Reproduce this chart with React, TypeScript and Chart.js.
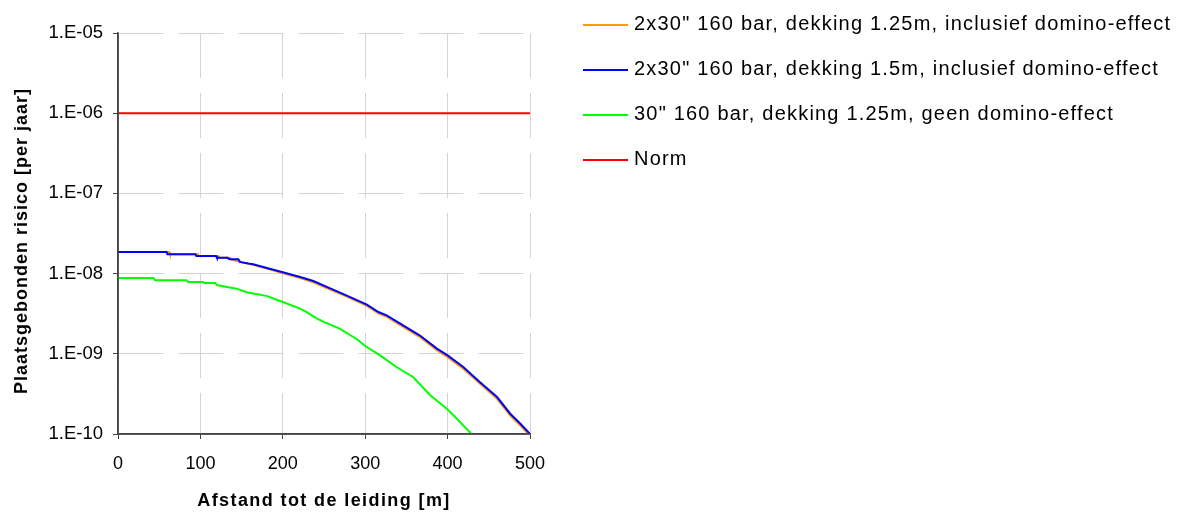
import React, { useEffect, useRef } from 'react';
import { Chart, registerables } from 'chart.js';

Chart.register(...registerables);

// ---- data ----
const legendLabels = [
  '2x30" 160 bar, dekking 1.25m, inclusief domino-effect',
  '2x30" 160 bar, dekking 1.5m, inclusief domino-effect',
  '30" 160 bar, dekking 1.25m, geen domino-effect',
  'Norm',
];
const seriesColors = ['#FF9900', '#0000FF', '#00FF00', '#FF0000'];

const orangeDistance = [0, 62, 63, 97, 98, 122, 123, 136, 138, 150, 160, 184, 200, 221, 237, 261, 277, 302, 316, 326, 346, 366, 387, 400, 419, 439, 460, 476, 488, 498];
const orangeRisk = [1.86e-8, 1.86e-8, 1.74e-8, 1.74e-8, 1.66e-8, 1.66e-8, 1.58e-8, 1.58e-8, 1.49e-8, 1.38e-8, 1.32e-8, 1.13e-8, 1.01e-8, 8.8e-9, 7.8e-9, 6.1e-9, 5.2e-9, 3.95e-9, 3.2e-9, 2.9e-9, 2.17e-9, 1.63e-9, 1.11e-9, 9.1e-10, 6.5e-10, 4.25e-10, 2.75e-10, 1.7e-10, 1.28e-10, 1.0e-10];

const blueDistance = [0, 59, 60, 94, 95, 119, 120, 133, 135, 146, 148, 158, 164, 184, 200, 221, 237, 261, 277, 302, 316, 326, 346, 366, 387, 400, 419, 439, 460, 476, 488, 500];
const blueRisk = [1.86e-8, 1.86e-8, 1.74e-8, 1.74e-8, 1.66e-8, 1.66e-8, 1.58e-8, 1.58e-8, 1.51e-8, 1.51e-8, 1.4e-8, 1.34e-8, 1.31e-8, 1.15e-8, 1.04e-8, 9.07e-9, 8.09e-9, 6.31e-9, 5.36e-9, 4.1e-9, 3.32e-9, 3.02e-9, 2.26e-9, 1.7e-9, 1.16e-9, 9.57e-10, 6.84e-10, 4.45e-10, 2.89e-10, 1.79e-10, 1.35e-10, 1.0e-10];

const greenDistance = [0, 43, 45, 83, 85, 103, 105, 118, 120, 132, 144, 156, 180, 200, 221, 229, 241, 251, 269, 290, 300, 318, 338, 358, 379, 399, 411, 419, 429];
const greenRisk = [8.81e-9, 8.81e-9, 8.24e-9, 8.24e-9, 7.86e-9, 7.86e-9, 7.64e-9, 7.64e-9, 7.21e-9, 6.81e-9, 6.5e-9, 5.85e-9, 5.28e-9, 4.43e-9, 3.66e-9, 3.3e-9, 2.77e-9, 2.47e-9, 2.06e-9, 1.52e-9, 1.25e-9, 9.57e-10, 6.84e-10, 5.14e-10, 3.04e-10, 2.07e-10, 1.56e-10, 1.28e-10, 1.0e-10];

const normDistance = [0, 500];
const normRisk = [1e-6, 1e-6];

const xTickValues = [0, 100, 200, 300, 400, 500];
const yTickValues = [1e-10, 1e-9, 1e-8, 1e-7, 1e-6, 1e-5];
const yTickLabels = ['1.E-10', '1.E-09', '1.E-08', '1.E-07', '1.E-06', '1.E-05'];

const xTitle = 'Afstand tot de leiding [m]';
const yTitle = 'Plaatsgebonden risico [per jaar]';

const FONT = '"Liberation Sans", Arial, Helvetica, sans-serif';

const toPoints = (xs: number[], ys: number[]) => xs.map((x, i) => ({ x, y: ys[i] }));

const textPlugin = {
  id: 'customText',
  afterDraw(chart: any) {
    const ctx = chart.ctx as CanvasRenderingContext2D;
    const area = chart.chartArea;
    ctx.save();
    // solid axis lines
    ctx.setLineDash([]);
    ctx.strokeStyle = '#444';
    ctx.lineWidth = 1.5;
    ctx.beginPath();
    ctx.moveTo(area.left, area.top);
    ctx.lineTo(area.left, area.bottom);
    ctx.lineTo(area.right, area.bottom);
    ctx.stroke();
    // legend
    legendLabels.forEach((label, i) => {
      const yLine = 25 + i * 45;
      ctx.strokeStyle = seriesColors[i];
      ctx.lineWidth = 2;
      ctx.beginPath();
      ctx.moveTo(583, yLine);
      ctx.lineTo(628, yLine);
      ctx.stroke();
      ctx.fillStyle = '#000';
      ctx.font = `20px ${FONT}`;
      (ctx as any).letterSpacing = '1.2px';
      ctx.textAlign = 'left';
      ctx.textBaseline = 'middle';
      ctx.fillText(label, 634, yLine - 1);
    });
    // axis titles
    ctx.fillStyle = '#000';
    ctx.font = `bold 18px ${FONT}`;
    (ctx as any).letterSpacing = '1.4px';
    ctx.textAlign = 'center';
    ctx.textBaseline = 'middle';
    ctx.fillText(xTitle, (area.left + area.right) / 2, 501);
    (ctx as any).letterSpacing = '1px';
    ctx.translate(22, 241);
    ctx.rotate(-Math.PI / 2);
    ctx.fillText(yTitle, 0, 0);
    ctx.restore();
  },
};

export default function App() {
  const canvasRef = useRef<HTMLCanvasElement | null>(null);

  useEffect(() => {
    if (!canvasRef.current) return;
    const gridOpts = {
      color: '#d4d4d4',
      lineWidth: 1,
      tickColor: '#444',
      tickLength: 5,
      tickWidth: 1,
      tickBorderDash: [],
    };
    const chart = new Chart(canvasRef.current, {
      type: 'line',
      data: {
        datasets: [
          { label: legendLabels[0], data: toPoints(orangeDistance, orangeRisk), borderColor: seriesColors[0], order: 2 },
          { label: legendLabels[1], data: toPoints(blueDistance, blueRisk), borderColor: seriesColors[1], order: 1 },
          { label: legendLabels[2], data: toPoints(greenDistance, greenRisk), borderColor: seriesColors[2], order: 3 },
          { label: legendLabels[3], data: toPoints(normDistance, normRisk), borderColor: seriesColors[3], order: 0 },
        ].map((d) => ({ ...d, borderWidth: 2, pointRadius: 0, tension: 0, fill: false })),
      },
      options: {
        animation: false,
        responsive: false,
        maintainAspectRatio: false,
        devicePixelRatio: 1,
        layout: { padding: { left: 0, top: 33, right: 653, bottom: 0 } },
        plugins: { legend: { display: false }, tooltip: { enabled: false }, title: { display: false } },
        font: { family: FONT },
        scales: {
          x: {
            type: 'linear',
            min: 0,
            max: 500,
            afterBuildTicks: (scale: any) => {
              scale.ticks = xTickValues.map((v) => ({ value: v }));
            },
            afterFit: (scale: any) => {
              scale.height = 80;
            },
            ticks: {
              color: '#000',
              font: { family: FONT, size: 18 },
              padding: 14,
              maxRotation: 0,
              callback: (v: any) => String(v),
            },
            grid: gridOpts,
            border: { display: true, color: '#444', width: 1.5, dash: [45, 15] },
          },
          y: {
            type: 'logarithmic',
            min: 1e-10,
            max: 1e-5,
            afterBuildTicks: (scale: any) => {
              scale.ticks = yTickValues.map((v) => ({ value: v }));
            },
            afterFit: (scale: any) => {
              scale.width = 118;
            },
            ticks: {
              color: '#000',
              font: { family: FONT, size: 18.5 },
              padding: 10,
              callback: (v: any) => {
                const idx = yTickValues.findIndex((t) => Math.abs(Math.log10(t) - Math.log10(v)) < 1e-6);
                return idx >= 0 ? yTickLabels[idx] : '';
              },
            },
            grid: gridOpts,
            border: { display: true, color: '#444', width: 1.5, dash: [45, 15] },
          },
        },
      } as any,
      plugins: [textPlugin],
    });
    return () => chart.destroy();
  }, []);

  return (
    <div style={{ position: 'absolute', left: 0, top: 0, width: 1183, height: 514, background: '#fff' }}>
      <canvas ref={canvasRef} width={1183} height={514} style={{ display: 'block', width: 1183, height: 514 }} />
    </div>
  );
}
